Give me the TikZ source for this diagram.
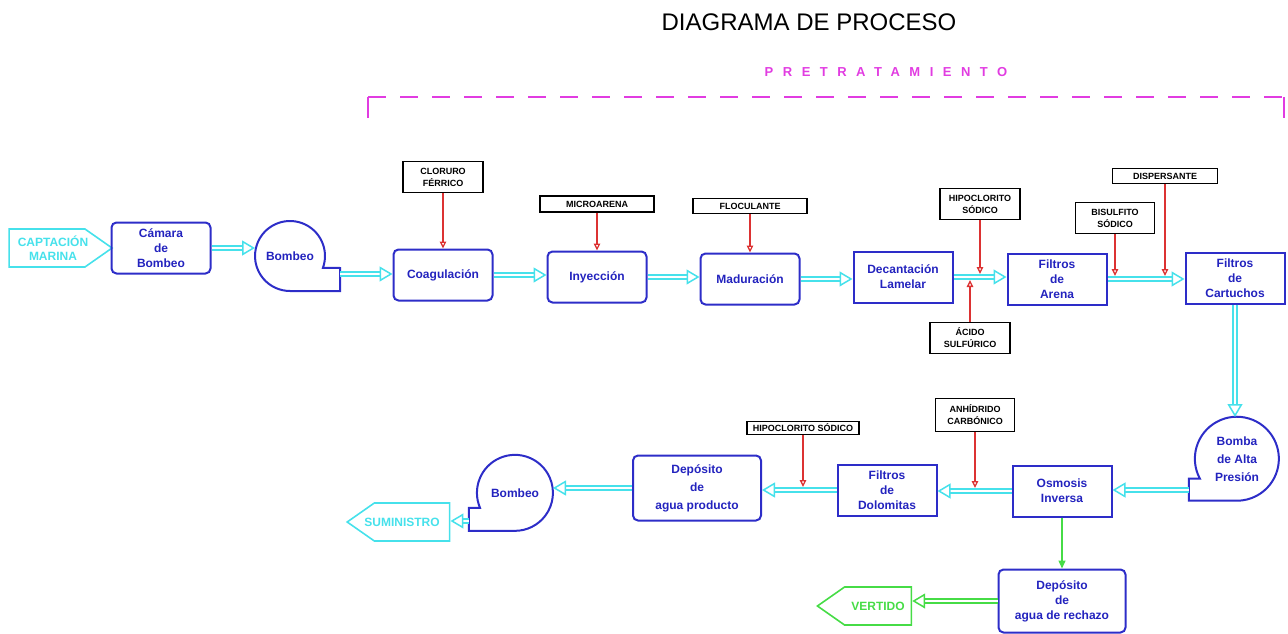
\documentclass[tikz,border=0pt]{standalone}
\usepackage{fontspec}
\setmainfont{Liberation Sans}
\usetikzlibrary{arrows.meta,decorations.markings,shapes.symbols,calc}
\definecolor{boxblue}{RGB}{45,45,200}
\definecolor{txtblue}{RGB}{35,35,190}
\definecolor{pipecyan}{RGB}{70,225,235}
\definecolor{dosered}{RGB}{220,50,50}
\definecolor{brinegreen}{RGB}{70,220,70}
\definecolor{pretmag}{RGB}{225,60,225}

\begin{document}
\begin{tikzpicture}
  [x=1pt,y=1pt,
    every node/.style={font=\bfseries\fontsize{12}{15}\selectfont, align=center},
    unit/.style={draw=boxblue, line width=2pt, text=txtblue, minimum width=99pt, minimum height=51pt, inner sep=1pt},
    tank/.style={unit, rounded corners=5pt},
    pump/.style={circle, text=txtblue, inner sep=0pt, outer sep=0pt},
    pumpline/.style={draw=boxblue, line width=2pt},
    dose/.style={draw=black, line width=1.5pt, font=\bfseries\fontsize{9}{12}\selectfont, inner sep=1.5pt, minimum height=15pt},
    dosetwo/.style={dose, minimum height=31pt},
    term/.style={signal, draw=#1, text=#1, line width=1.6pt, minimum height=38pt, inner sep=0pt, signal pointer angle=70, font=\bfseries\fontsize{12}{14}\selectfont},
    pipe/.style={draw=#1, double=white, double distance=2.5pt, line width=1.8pt, shorten >=11pt,
      postaction={decorate, draw=none, decoration={markings, mark=at position 1 with {\arrow[#1, line width=1.5pt]{Triangle[fill=white, length=13pt, width=15pt]}}}}},
    pipe/.default=pipecyan,
    feed/.style={draw=dosered, line width=1.3pt, -{Triangle[length=7pt, width=6.5pt, fill=white]}},
  ]
  \useasboundingbox (0,0) rectangle (1288,-634);

  \node[font=\fontsize{24}{28}\selectfont] (title) at (809,-22) {DIAGRAMA DE PROCESO};
  \node[text=pretmag, font=\bfseries\fontsize{13}{15}\selectfont\addfontfeature{LetterSpace=73}] (pretrat) at (886,-72) {PRETRATAMIENTO};
  \draw[pretmag, line width=1.6pt] (368,-118) -- (368,-97);
  \draw[pretmag, line width=1.6pt, dash pattern=on 18pt off 14pt] (368,-97) -- (1284,-97);
  \draw[pretmag, line width=1.6pt] (1284,-97) -- (1284,-118);

  \node[term=pipecyan, signal to=east, minimum width=103pt] (captacion) at (47,-248) {\hspace*{6pt}CAPTACIÓN\hspace*{-6pt}\\\hspace*{6pt}MARINA\hspace*{-6pt}};
  \node[tank] (camara) at (161,-248) {Cámara\\de\\Bombeo};
  \node[pump, minimum size=70pt] (bombeoA) at (290,-256) {Bombeo};
  \draw[pumpline] (bombeoA.-20) arc[start angle=-20, end angle=270, radius=35pt] -- ++(50,0) -- ++(0,23) -- cycle;
  \coordinate (bombeoAout) at (340,-274);
  \node[tank] (coag) at (443,-275) {Coagulación};
  \node[tank] (inyeccion) at (597,-277) {Inyección};
  \node[tank] (maduracion) at (750,-279) {Maduración};
  \node[unit] (decant) at (903,-277) {Decantación\\Lamelar};
  \node[unit] (arena) at (1057,-279) {Filtros\\de\\Arena};
  \node[unit] (cartuchos) at (1235,-278) {Filtros\\de\\Cartuchos};

  \node[pump, minimum size=84pt, font=\bfseries\fontsize{12}{18}\selectfont] (altapresion) at (1237,-459) {Bomba\\de Alta\\Presión};
  \draw[pumpline] (altapresion.208.4) arc[start angle=208.4, end angle=-90, radius=42pt] -- ++(-48,0) -- ++(0,22) -- cycle;
  \coordinate (altapresionout) at (1189,-490);
  \node[unit] (osmosis) at (1062,-491) {Osmosis\\Inversa};
  \node[unit] (dolomitas) at (887,-490) {Filtros\\de\\Dolomitas};
  \node[tank, minimum width=128pt, minimum height=65pt, font=\bfseries\fontsize{12}{18}\selectfont] (producto) at (697,-488) {Depósito\\de\\agua producto};
  \node[pump, minimum size=76pt] (bombeoB) at (515,-493) {Bombeo};
  \draw[pumpline] (bombeoB.203.25) arc[start angle=203.25, end angle=-90, radius=38pt] -- ++(-46,0) -- ++(0,23) -- cycle;
  \coordinate (bombeoBout) at (469,-521);
  \node[term=pipecyan, signal to=west, minimum width=102pt] (suministro) at (412,-522) {\hspace*{-10pt}SUMINISTRO\hspace*{10pt}};
  \node[tank, minimum width=127pt, minimum height=63pt] (rechazo) at (1062,-601) {Depósito\\de\\agua de rechazo};
  \node[term=brinegreen, signal to=west, minimum width=94pt] (vertido) at (878,-606) {VERTIDO};

  \node[dosetwo, minimum width=80pt] (cloruro) at (443,-177) {CLORURO\\FÉRRICO};
  \node[dose, minimum width=114pt, minimum height=16pt] (microarena) at (597,-204) {MICROARENA};
  \node[dose, minimum width=114pt] (floculante) at (750,-206) {FLOCULANTE};
  \node[dosetwo, minimum width=80pt] (hipocloritoA) at (980,-204) {HIPOCLORITO\\SÓDICO};
  \node[dosetwo, minimum width=80pt] (acido) at (970,-338) {ÁCIDO\\SULFÚRICO};
  \node[dosetwo, minimum width=79pt] (bisulfito) at (1115,-218) {BISULFITO\\SÓDICO};
  \node[dose, minimum width=105pt] (dispersante) at (1165,-176) {DISPERSANTE};
  \node[dosetwo, minimum width=79pt, minimum height=33pt] (anhidrido) at (975,-415) {ANHÍDRIDO\\CARBÓNICO};
  \node[dose, minimum width=112pt, minimum height=13pt] (hipocloritoB) at (803,-428) {HIPOCLORITO SÓDICO};

  \draw[pipe] (camara.east) -- (camara.east -| bombeoA.west);
  \draw[pipe] (bombeoAout) -- (bombeoAout -| coag.west);
  \draw[pipe] (coag.east) -- (coag.east -| inyeccion.west);
  \draw[pipe] (inyeccion.east) -- (inyeccion.east -| maduracion.west);
  \draw[pipe] (maduracion.east) -- (maduracion.east -| decant.west);
  \draw[pipe] (decant.east) -- (decant.east -| arena.west);
  \draw[pipe] (arena.east) -- (arena.east -| cartuchos.west);
  \draw[pipe] (cartuchos.south) -- (cartuchos.south |- altapresion.north);
  \draw[pipe] (altapresionout) -- (altapresionout -| osmosis.east);
  \draw[pipe] (osmosis.west) -- (osmosis.west -| dolomitas.east);
  \draw[pipe] (dolomitas.west) -- (dolomitas.west -| producto.east);
  \draw[pipe] (producto.west) -- (producto.west -| bombeoB.east);
  \draw[pipe] (bombeoBout) -- (bombeoBout -| suministro.east);
  \draw[brinegreen, line width=1.4pt, -{Triangle[length=8pt, width=7pt]}] (osmosis.south) -- (rechazo.north);
  \draw[pipe=brinegreen] (rechazo.west) -- (rechazo.west -| vertido.east);

  \draw[feed] (cloruro.south) -- (coag.north);
  \draw[feed] (microarena.south) -- (inyeccion.north);
  \draw[feed] (floculante.south) -- (maduracion.north);
  \draw[feed] (hipocloritoA.south) -- ($(hipocloritoA.south |- decant.east)+(0,3)$);
  \draw[feed] (acido.north) -- ($(acido.north |- decant.east)+(0,-3)$);
  \draw[feed] (bisulfito.south) -- ($(bisulfito.south |- arena.east)+(0,3)$);
  \draw[feed] (dispersante.south) -- ($(dispersante.south |- arena.east)+(0,3)$);
  \draw[feed] (anhidrido.south) -- ($(anhidrido.south |- osmosis.west)+(0,3)$);
  \draw[feed] (hipocloritoB.south) -- ($(hipocloritoB.south |- dolomitas.west)+(0,3)$);
\end{tikzpicture}
\end{document}
